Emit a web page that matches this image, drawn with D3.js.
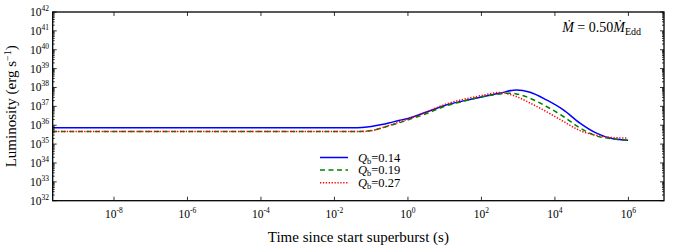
<!DOCTYPE html>
<html><head><meta charset="utf-8">
<script src="https://cdn.jsdelivr.net/npm/d3@7/dist/d3.min.js"></script>
<style>body{margin:0;background:#fff}svg{display:block}text{font-family:"Liberation Serif","DejaVu Serif",serif;fill:#000}</style>
</head><body><svg id="c" width="682" height="252"></svg>
<script>
// ---- data ----
const seriesLabels = ["0.14", "0.19", "0.27"];
const timeBlue = [2.1e-10, 3.2e-2, 5.6e-2, 0.1, 0.18, 0.32, 0.56, 1, 3.2, 10, 32, 100, 320, 890, 2100, 5900, 1.7e4, 4.8e4, 1.35e5, 3.8e5, 9.8e5];
const lumBlue  = [7.24e35, 7.24e35, 7.59e35, 8.51e35, 1.05e36, 1.35e36, 1.78e36, 2.29e36, 5.01e36, 1.12e37, 1.95e37, 3.16e37, 5.01e37, 7.41e37, 5.6e37, 2.2e37, 6.5e36, 1.3e36, 3.8e35, 1.9e35, 1.6e35];
const timeGreen = [2.1e-10, 5e-2, 0.079, 0.126, 0.2, 0.32, 0.56, 1, 3.2, 10, 32, 100, 320, 560, 890, 2100, 5900, 1.7e4, 4.8e4, 1.35e5, 3.8e5, 9.8e5];
const lumGreen  = [4.68e35, 4.68e35, 4.9e35, 5.62e35, 7.24e35, 9.55e35, 1.32e36, 1.91e36, 4.17e36, 1.0e37, 1.86e37, 3.16e37, 4.57e37, 5.0e37, 4.57e37, 2.69e37, 9.8e36, 2.9e36, 7.1e35, 2.7e35, 1.9e35, 1.6e35];
const timeRed = [2.1e-10, 5e-2, 0.079, 0.126, 0.2, 0.32, 0.56, 1, 3.2, 10, 32, 100, 300, 890, 2100, 5900, 1.7e4, 4.8e4, 1.35e5, 3.8e5, 9.8e5];
const lumRed  = [4.6e35, 4.6e35, 4.8e35, 5.6e35, 7.4e35, 1.0e36, 1.45e36, 2.09e36, 5.01e36, 1.25e37, 2.35e37, 3.72e37, 5.4e37, 3.3e37, 1.5e37, 5.2e36, 1.6e36, 5.2e35, 2.9e35, 2.2e35, 2.1e35];
const xTickExps = [-8, -6, -4, -2, 0, 2, 4, 6];
const yTickExps = [32, 33, 34, 35, 36, 37, 38, 39, 40, 41, 42];
const xDomain = [2.15e-10, 9.3e6];
const yDomain = [1e32, 1e42];

// ---- layout ----
const svg = d3.select("#c");
const L = 52.7, R = 664, T = 12, B = 200.7;
const x = d3.scaleLog().domain(xDomain).range([L, R]);
const y = d3.scaleLog().domain(yDomain).range([B, T]);

const series = [
  {t: timeBlue, v: lumBlue, color: "#0000ff", dash: null, label: seriesLabels[0]},
  {t: timeGreen, v: lumGreen, color: "#008000", dash: "5,3.5", label: seriesLabels[1]},
  {t: timeRed, v: lumRed, color: "#ff0000", dash: "1.3,1.6", label: seriesLabels[2]}
];

svg.append("defs").append("clipPath").attr("id","clp").append("rect")
  .attr("x", L).attr("y", T).attr("width", R-L).attr("height", B-T);

const line = d3.line().x(d => x(d[0])).y(d => y(d[1])).curve(d3.curveMonotoneX);
const g = svg.append("g").attr("clip-path","url(#clp)");
series.forEach(s => {
  g.append("path").datum(s.t.map((t,i)=>[t, s.v[i]]))
    .attr("d", line).attr("fill","none").attr("stroke", s.color)
    .attr("stroke-width", 1.5).attr("stroke-dasharray", s.dash);
});

// ticks
const tk = svg.append("g").attr("stroke","#000").attr("stroke-width",0.8);
xTickExps.forEach(e => {
  const px = x(Math.pow(10,e));
  tk.append("line").attr("x1",px).attr("x2",px).attr("y1",B).attr("y2",B-4);
  tk.append("line").attr("x1",px).attr("x2",px).attr("y1",T).attr("y2",T+4);
});
yTickExps.forEach(e => {
  const py = y(Math.pow(10,e));
  tk.append("line").attr("x1",L).attr("x2",L+4).attr("y1",py).attr("y2",py);
  tk.append("line").attr("x1",R).attr("x2",R-4).attr("y1",py).attr("y2",py);
  if (e < 42) for (let m=2;m<10;m++){
    const pm = y(m*Math.pow(10,e));
    tk.append("line").attr("x1",L).attr("x2",L+2).attr("y1",pm).attr("y2",pm);
    tk.append("line").attr("x1",R).attr("x2",R-2).attr("y1",pm).attr("y2",pm);
  }
});

// frame
svg.append("rect").attr("x",L).attr("y",T).attr("width",R-L).attr("height",B-T)
  .attr("fill","none").attr("stroke","#000").attr("stroke-width",1.3);

// tick labels
xTickExps.forEach(e => {
  const t = svg.append("text").attr("x", x(Math.pow(10,e))).attr("y", 218)
    .attr("text-anchor","middle").attr("font-size",11.5);
  t.append("tspan").text("10");
  t.append("tspan").attr("dy",-5).attr("font-size",7.5).text(String(e));
});
yTickExps.forEach(e => {
  const t = svg.append("text").attr("x", 49).attr("y", y(Math.pow(10,e))+4)
    .attr("text-anchor","end").attr("font-size",11.5);
  t.append("tspan").text("10");
  t.append("tspan").attr("dy",-5).attr("font-size",7.5).text(String(e));
});

// axis titles
svg.append("text").attr("x",(L+R)/2).attr("y",242).attr("text-anchor","middle")
  .attr("font-size",15).text("Time since start superburst (s)");
const yl = svg.append("text").attr("transform","translate(16,"+((T+B)/2)+") rotate(-90)")
  .attr("text-anchor","middle").attr("font-size",15);
yl.append("tspan").text("Luminosity (erg s");
yl.append("tspan").attr("dy",-5).attr("font-size",10).text("−1");
yl.append("tspan").attr("dy",5).text(")");

// annotation
const an = svg.append("text").attr("x",641).attr("y",32).attr("text-anchor","end").attr("font-size",14);
an.append("tspan").attr("font-style","italic").text("Ṁ");
an.append("tspan").text(" = 0.50");
an.append("tspan").attr("font-style","italic").text("Ṁ");
an.append("tspan").attr("dy",3).attr("font-size",10).text("Edd");

// legend
series.forEach((s,i) => {
  const ly = 157.5 + i*12.6;
  svg.append("line").attr("x1",320).attr("x2",348).attr("y1",ly).attr("y2",ly)
    .attr("stroke",s.color).attr("stroke-width",1.5).attr("stroke-dasharray",s.dash);
  const t = svg.append("text").attr("x",358).attr("y",ly+4).attr("font-size",12.5);
  t.append("tspan").attr("font-style","italic").text("Q");
  t.append("tspan").attr("dy",2).attr("font-size",8.5).text("b");
  t.append("tspan").attr("dy",-2).text("=" + s.label);
});
</script></body></html>
